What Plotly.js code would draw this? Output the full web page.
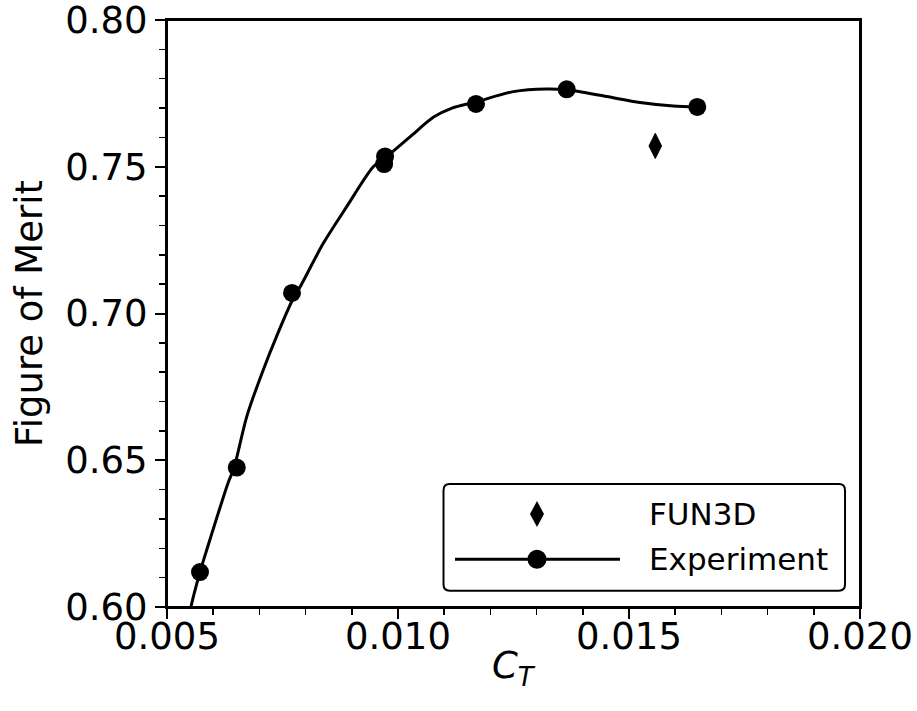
<!DOCTYPE html>
<html>
<head>
<meta charset="utf-8">
<script src="https://cdn.plot.ly/plotly-3.0.1.min.js"></script>
<style>html,body{margin:0;padding:0;background:#fff;}#chart{width:917px;height:711px;}</style>
</head>
<body>
<div id="chart"></div>
<script>
// Experiment data points (C_T, Figure of Merit)
const expCT = [0.005714, 0.006510, 0.007706, 0.009700, 0.009720, 0.011688, 0.013651, 0.016478];
const expFM = [0.6119, 0.6475, 0.7070, 0.7509, 0.7535, 0.7714, 0.7764, 0.7704];

// Experiment fitted curve
const fitCT = [0.005498, 0.005519, 0.005714, 0.005859, 0.006320, 0.006450, 0.006725, 0.007050, 0.007403, 0.007716, 0.007879, 0.008383, 0.008890, 0.009465, 0.009719, 0.010260, 0.010779, 0.011169, 0.011688, 0.012496, 0.013219, 0.013651, 0.014517, 0.015238, 0.015959, 0.016472];
const fitFM = [0.5973, 0.6000, 0.6119, 0.6194, 0.6422, 0.6474, 0.6648, 0.6794, 0.6934, 0.7046, 0.7090, 0.7239, 0.7364, 0.7500, 0.7530, 0.7602, 0.7670, 0.7700, 0.7721, 0.7756, 0.7765, 0.7762, 0.7739, 0.7719, 0.7707, 0.7704];

// FUN3D result
const cfdCT = [0.015569];
const cfdFM = [0.7571];

// Axis ticks
const xTicks = [0.005, 0.010, 0.015, 0.020];
const xTickText = ['0.005', '0.010', '0.015', '0.020'];
const yTicks = [0.60, 0.65, 0.70, 0.75, 0.80];
const yTickText = ['0.60', '0.65', '0.70', '0.75', '0.80'];

// Legend labels and axis titles
const legendLabels = ['FUN3D', 'Experiment'];
const xTitle = '<i>C</i><sub><i>T</i></sub>';
const yTitle = 'Figure of Merit';

const FONT = 'DejaVu Sans, sans-serif';

const traces = [
  {x: fitCT, y: fitFM, type: 'scatter', mode: 'lines', line: {color: '#000', width: 3, shape: 'spline', smoothing: 0.8}, showlegend: false, hoverinfo: 'skip'},
  {x: expCT, y: expFM, type: 'scatter', mode: 'markers', marker: {color: '#000', size: 18, symbol: 'circle'}, showlegend: false, name: legendLabels[1]},
  {x: cfdCT, y: cfdFM, type: 'scatter', mode: 'markers', marker: {color: '#000', size: 18, symbol: 'diamond-tall', line: {color: '#000', width: 1}}, showlegend: false, name: legendLabels[0]}
];

function roundRect(x0, y0, x1, y1, rx, ry) {
  return 'M' + (x0 + rx) + ',' + y1 +
    ' L' + (x1 - rx) + ',' + y1 + ' Q' + x1 + ',' + y1 + ' ' + x1 + ',' + (y1 - ry) +
    ' L' + x1 + ',' + (y0 + ry) + ' Q' + x1 + ',' + y0 + ' ' + (x1 - rx) + ',' + y0 +
    ' L' + (x0 + rx) + ',' + y0 + ' Q' + x0 + ',' + y0 + ' ' + x0 + ',' + (y0 + ry) +
    ' L' + x0 + ',' + (y1 - ry) + ' Q' + x0 + ',' + y1 + ' ' + (x0 + rx) + ',' + y1 + ' Z';
}

const LX = 0.5339, LY1 = 0.1584, LY2 = 0.0813;

const layout = {
  width: 917, height: 711,
  margin: {l: 167, r: 57, t: 20, b: 104},
  paper_bgcolor: '#fff', plot_bgcolor: '#fff',
  font: {family: FONT, color: '#000', size: 37},
  showlegend: false,
  xaxis: {
    range: [0.005, 0.020], tickvals: xTicks, ticktext: xTickText,
    showgrid: false, zeroline: false,
    showline: true, mirror: true, linecolor: '#000', linewidth: 2,
    ticks: 'outside', ticklen: 10, tickwidth: 2, tickcolor: '#000',
    ticklabelstandoff: -14, ticklabeloverflow: 'allow',
    tickfont: {family: FONT, size: 37, color: '#000'},
    minor: {dtick: 0.001, ticks: 'outside', ticklen: 6, tickwidth: 1.5, tickcolor: '#000', showgrid: false}
  },
  yaxis: {
    range: [0.60, 0.80], tickvals: yTicks, ticktext: yTickText,
    showgrid: false, zeroline: false,
    showline: true, mirror: true, linecolor: '#000', linewidth: 2,
    ticks: 'outside', ticklen: 10, tickwidth: 2, tickcolor: '#000',
    ticklabeloverflow: 'allow',
    tickfont: {family: FONT, size: 37, color: '#000'},
    minor: {dtick: 0.01, ticks: 'outside', ticklen: 6, tickwidth: 1.5, tickcolor: '#000', showgrid: false},
    title: {text: yTitle, font: {family: FONT, size: 37, color: '#000'}, standoff: 11}
  },
  shapes: [
    {type: 'rect', xref: 'paper', yref: 'paper', layer: 'above', x0: 0, x1: 1, y0: 0, y1: 1,
     line: {color: '#000', width: 2}, fillcolor: 'rgba(0,0,0,0)'},
    {type: 'path', xref: 'paper', yref: 'paper', layer: 'above',
     path: roundRect(0.3990, 0.0278, 0.9784, 0.2095, 0.009, 0.011),
     line: {color: '#000', width: 2}, fillcolor: '#fff'},
    {type: 'line', xref: 'paper', yref: 'paper', layer: 'above', x0: 0.4156, x1: 0.6537, y0: LY2, y1: LY2,
     line: {color: '#000', width: 3}},
    {type: 'circle', xref: 'paper', yref: 'paper', layer: 'above', xsizemode: 'pixel', ysizemode: 'pixel',
     xanchor: LX, yanchor: LY2, x0: -9.5, x1: 9.5, y0: -9.5, y1: 9.5,
     line: {width: 0}, fillcolor: '#000'},
    {type: 'path', xref: 'paper', yref: 'paper', layer: 'above', xsizemode: 'pixel', ysizemode: 'pixel',
     xanchor: LX, yanchor: LY1, path: 'M0,13 L7,0 L0,-13 L-7,0 Z',
     line: {width: 0}, fillcolor: '#000'}
  ],
  annotations: [
    {xref: 'paper', yref: 'paper', x: 0.6922, y: LY1, xanchor: 'left', yanchor: 'middle', showarrow: false,
     text: legendLabels[0], font: {family: FONT, size: 31, color: '#000'}},
    {xref: 'paper', yref: 'paper', x: 0.6922, y: LY2, xanchor: 'left', yanchor: 'middle', showarrow: false,
     text: legendLabels[1], font: {family: FONT, size: 31, color: '#000'}},
    {xref: 'paper', yref: 'paper', x: 0.5, y: -0.104, xanchor: 'center', yanchor: 'middle', showarrow: false,
     text: xTitle, font: {family: FONT, size: 37, color: '#000'}}
  ]
};

Plotly.newPlot('chart', traces, layout, {staticPlot: true, displayModeBar: false});
</script>
</body>
</html>
